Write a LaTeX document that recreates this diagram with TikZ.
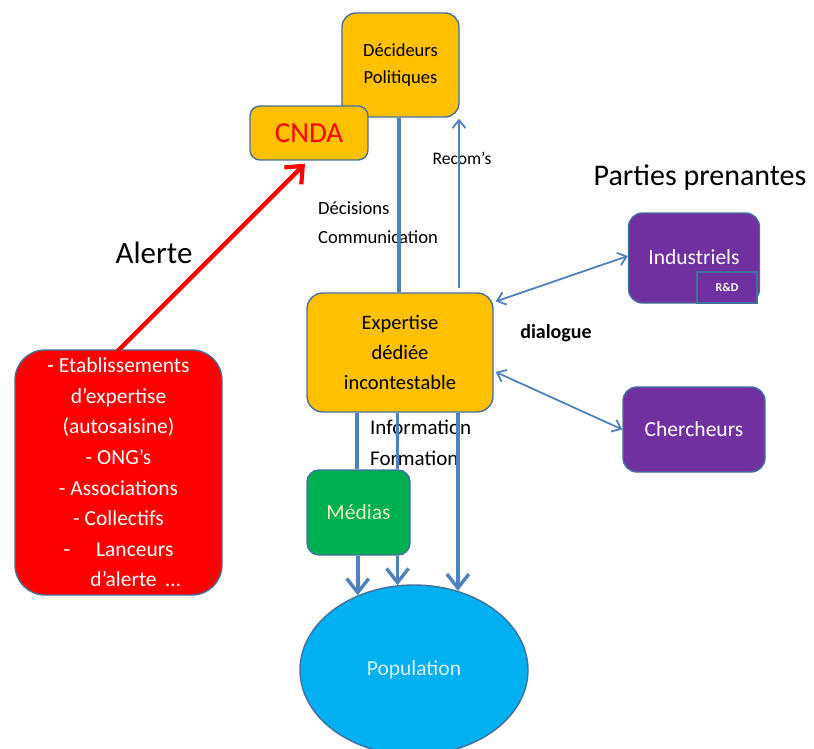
\documentclass[tikz,border=0pt]{standalone}
\usepackage{fontspec}
\setmainfont{Carlito}
\usetikzlibrary{arrows.meta,shapes.geometric}
\definecolor{orng}{HTML}{FFC000}
\definecolor{bord}{HTML}{41719C}
\definecolor{lineblue}{HTML}{4F81BD}
\definecolor{redbox}{HTML}{FF0000}
\definecolor{purp}{HTML}{7030A0}
\definecolor{grn}{HTML}{00B050}
\definecolor{cyanpop}{HTML}{00B0F0}
\definecolor{palegreen}{HTML}{E4F4C4}
\definecolor{paleblue}{HTML}{DDF3FF}
\tikzset{
  box/.style={draw=bord, line width=1.4pt, rounded corners=14pt, inner sep=0pt, align=center},
  thickline/.style={draw=lineblue, line width=3.6pt},
  thickarrow/.style={thickline, -{Straight Barb[length=14pt,width=22pt,line width=3.4pt]}},
  thinarrow/.style={draw=lineblue, line width=1.8pt, -{Straight Barb[length=8pt,width=13pt,line width=1.8pt]}},
  dblarrow/.style={draw=lineblue, line width=1.8pt, {Straight Barb[length=8pt,width=13pt,line width=1.8pt]}-{Straight Barb[length=8pt,width=13pt,line width=1.8pt]}},
  lbl/.style={inner sep=0pt, align=left}
}
\begin{document}
\begin{tikzpicture}[x=1pt,y=-1pt]
\useasboundingbox (0,0) rectangle (814,749);
\clip (0,0) rectangle (814,749);

% nodes
\node[box, fill=orng, minimum width=117pt, minimum height=104pt,
      font={\fontsize{18.5}{27}\selectfont}] (dec) at (400.5,65) {Décideurs\\Politiques};
\node[box, fill=orng, rounded corners=10pt, minimum width=118pt, minimum height=54pt,
      text=redbox, font={\fontsize{29}{32}\selectfont}] (cnda) at (309,133) {CNDA};
\node[box, fill=orng, rounded corners=16pt, minimum width=186pt, minimum height=119pt,
      font={\fontsize{20.5}{30}\selectfont}] (exp) at (400,352.5) {Expertise\\dédiée\\incontestable};
\node[box, fill=redbox, rounded corners=30pt, minimum width=207pt, minimum height=245pt,
      text=white, font={\fontsize{21.5}{30.6}\selectfont}] (red) at (118.5,472.5)
      {- Etablissements\\d’expertise\\(autosaisine)\\- ONG’s\\- Associations\\- Collectifs\\
       -\hspace{26pt}Lanceurs\\\hspace{34pt}d’alerte\hspace{9pt}…};
\node[box, fill=purp, minimum width=131pt, minimum height=90pt, text=white,
      font={\fontsize{21.5}{26}\selectfont}] (ind) at (694,258) {\raisebox{2pt}{Industriels}};
\node[draw=bord, line width=1.4pt, fill=purp, minimum width=60pt, minimum height=31pt, inner sep=0pt,
      text=white, font={\fontsize{12}{13}\selectfont\bfseries}] (rd) at (727,287.5) {R\&D};
\node[box, fill=purp, minimum width=142pt, minimum height=85pt, text=white,
      font={\fontsize{21.5}{26}\selectfont}] (cher) at (694,429.5) {Chercheurs};
\node[box, fill=grn, rounded corners=12pt, minimum width=103pt, minimum height=85pt,
      text=palegreen, font={\fontsize{21.5}{26}\selectfont}] (med) at (358.5,512.5) {Médias};
\node[ellipse, draw=bord, line width=1.4pt, fill=cyanpop, minimum width=228pt, minimum height=170pt,
      inner sep=0pt, text=paleblue, font={\fontsize{21.5}{26}\selectfont}] (pop) at (414,670) {Population};

% labels
\node[lbl, anchor=west, font={\fontsize{18.6}{29}\selectfont}] (ldec) at (318,222.5) {Décisions\\Communication};
\node[lbl, font={\fontsize{17.6}{20}\selectfont}] (lrec) at (462,158) {Recom’s};
\node[lbl, anchor=west, font={\fontsize{21}{31}\selectfont}] (linf) at (370,442.5) {Information\\Formation};
\node[lbl, font={\fontsize{20}{24}\selectfont\bfseries}] (ldia) at (556,333) {dialogue};
\node[lbl, font={\fontsize{30}{34}\selectfont}] (lpp) at (700,178) {Parties prenantes};
\node[lbl, font={\fontsize{31}{34}\selectfont}] (lal) at (154,253) {Alerte};

% helper coordinates
\coordinate (xa) at (399,0);
\coordinate (xr) at (459,0);
\coordinate (x1) at (357,0);

% connectors
\draw[thickline] (dec.south -| xa) -- (exp.north -| xa);
\draw[thinarrow] ([yshift=4pt]exp.north -| xr) -- ([yshift=-1pt]dec.south -| xr);
\draw[dblarrow] ([yshift=51pt,xshift=2pt]exp.east) -- ([yshift=2pt]ind.west);
\draw[dblarrow] ([yshift=-19.5pt,xshift=2pt]exp.east) -- (cher.west);
\draw[draw=redbox, line width=4.5pt, -{Straight Barb[length=14pt,width=24pt,line width=4.2pt]}]
     ([xshift=-1pt,yshift=-2pt]red.north) -- ([xshift=-4pt,yshift=-3pt]cnda.south);
\draw[thickline] (exp.south -| x1) -- (med.north -| x1);
\draw[thickline] (exp.south -| pop.101) -- (med.north -| pop.101);
\draw[thickarrow] (med.south -| pop.127) -- (pop.127);
\draw[thickarrow] (med.south -| pop.101) -- (pop.101);
\draw[thickarrow] (exp.south -| pop.61) -- (pop.61);
\end{tikzpicture}
\end{document}
